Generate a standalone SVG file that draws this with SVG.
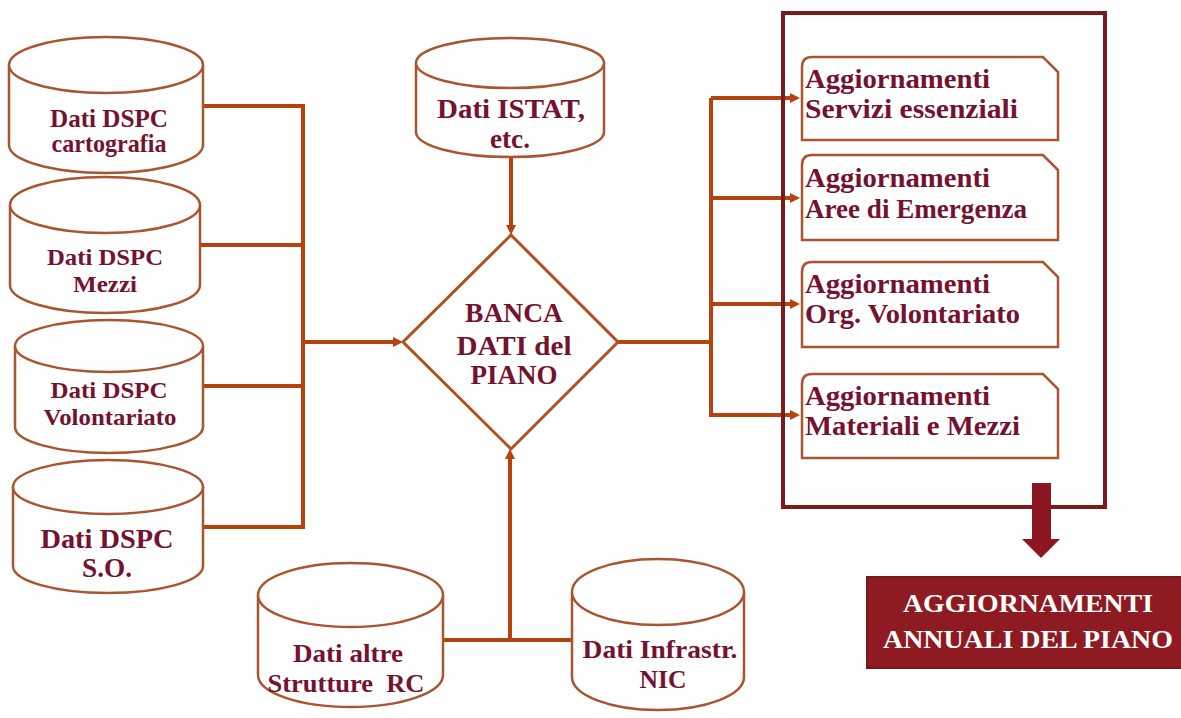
<svg xmlns="http://www.w3.org/2000/svg" width="1181" height="718" viewBox="0 0 1181 718">
<style>
.cyl{fill:#fff;stroke:#a9552f;stroke-width:2.5}
.box{fill:#fff;stroke:#a9552f;stroke-width:2.5}
.con{fill:none;stroke:#b5420f;stroke-width:4}
.t{font-family:"Liberation Serif","DejaVu Serif",serif;font-weight:bold;fill:#74122f;text-anchor:middle}
.bt{font-family:"Liberation Serif","DejaVu Serif",serif;font-weight:bold;fill:#74122f;font-size:27px}
.wt{font-family:"Liberation Serif","DejaVu Serif",serif;font-weight:bold;fill:#fff;text-anchor:middle;font-size:26px}
</style>
<defs>
<marker id="ah" viewBox="0 0 10 10" refX="4" refY="5" markerWidth="10" markerHeight="10" markerUnits="userSpaceOnUse" orient="auto">
<path d="M0,0 L10,5 L0,10 z" fill="#b5420f"/>
</marker>
</defs>
<rect width="1181" height="718" fill="#fff"/>

<g id="connectors">
<path class="con" d="M203,106 H303 V527 H203"/>
<path class="con" d="M200,245 H303"/>
<path class="con" d="M203,386 H303"/>
<path class="con" d="M303,342 H397" marker-end="url(#ah)"/>
<path class="con" d="M511,157 V229" stroke-width="3" marker-end="url(#ah)"/>
<path class="con" d="M443,640 H572"/>
<path class="con" d="M510,640 V455" stroke-width="3" marker-end="url(#ah)"/>
<path class="con" d="M618,342 H711"/>
<path class="con" d="M711,98 V417"/>
<path class="con" d="M711,98 H794" marker-end="url(#ah)"/>
<path class="con" d="M711,198 H794" marker-end="url(#ah)"/>
<path class="con" d="M711,304 H794" marker-end="url(#ah)"/>
<path class="con" d="M711,415 H794" marker-end="url(#ah)"/>
</g>

<g id="cyl-cartografia">
<path class="cyl" d="M9,65 V145 A97,28 0 0 0 203,145 V65"/>
<ellipse class="cyl" cx="106" cy="65" rx="97" ry="28"/>
<text class="t" font-size="25" x="109" y="127" textLength="118" lengthAdjust="spacingAndGlyphs">Dati DSPC</text>
<text class="t" font-size="25" x="109" y="152" textLength="115" lengthAdjust="spacingAndGlyphs">cartografia</text>
</g>

<g id="cyl-mezzi">
<path class="cyl" d="M10,205 V285 A95,28 0 0 0 200,285 V205"/>
<ellipse class="cyl" cx="105" cy="205" rx="95" ry="28"/>
<text class="t" font-size="24" x="105" y="265" textLength="116" lengthAdjust="spacingAndGlyphs">Dati DSPC</text>
<text class="t" font-size="24" x="105" y="292" textLength="64" lengthAdjust="spacingAndGlyphs">Mezzi</text>
</g>

<g id="cyl-volontariato">
<path class="cyl" d="M15,346 V427 A94,26 0 0 0 203,427 V346"/>
<ellipse class="cyl" cx="109" cy="346" rx="94" ry="26"/>
<text class="t" font-size="23" x="109" y="398" textLength="117" lengthAdjust="spacingAndGlyphs">Dati DSPC</text>
<text class="t" font-size="23" x="110" y="425" textLength="133" lengthAdjust="spacingAndGlyphs">Volontariato</text>
</g>

<g id="cyl-so">
<path class="cyl" d="M13,487 V566 A95,27 0 0 0 203,566 V487"/>
<ellipse class="cyl" cx="108" cy="487" rx="95" ry="27"/>
<text class="t" font-size="28" x="107" y="548" textLength="133" lengthAdjust="spacingAndGlyphs">Dati DSPC</text>
<text class="t" font-size="28" x="107" y="577" textLength="50" lengthAdjust="spacingAndGlyphs">S.O.</text>
</g>

<g id="cyl-istat">
<path class="cyl" d="M416,63 V132 A94,25 0 0 0 604,132 V63"/>
<ellipse class="cyl" cx="510" cy="63" rx="94" ry="25"/>
<text class="t" font-size="27" x="511" y="118" textLength="148" lengthAdjust="spacingAndGlyphs">Dati ISTAT,</text>
<text class="t" font-size="27" x="510" y="148" textLength="40" lengthAdjust="spacingAndGlyphs">etc.</text>
</g>

<g id="banca-dati">
<polygon points="511,235 618,342 511,449 403,342" fill="#fff" stroke="#b0501f" stroke-width="3"/>
<text class="t" font-size="27" x="514" y="322" textLength="98" lengthAdjust="spacingAndGlyphs">BANCA</text>
<text class="t" font-size="27" x="514" y="355" textLength="115" lengthAdjust="spacingAndGlyphs">DATI del</text>
<text class="t" font-size="27" x="514" y="384" textLength="87" lengthAdjust="spacingAndGlyphs">PIANO</text>
</g>

<g id="cyl-altre">
<path class="cyl" d="M258,595 V675 A92.5,32 0 0 0 443,675 V595"/>
<ellipse class="cyl" cx="350.5" cy="595" rx="92.5" ry="32"/>
<text class="t" font-size="25" x="348" y="662" textLength="110" lengthAdjust="spacingAndGlyphs">Dati altre</text>
<text class="t" font-size="25" x="346" y="692" textLength="157" lengthAdjust="spacingAndGlyphs" xml:space="preserve">Strutture  RC</text>
</g>

<g id="cyl-nic">
<path class="cyl" d="M572,592 V677 A86,33 0 0 0 744,677 V592"/>
<ellipse class="cyl" cx="658" cy="592" rx="86" ry="33"/>
<text class="t" font-size="25" x="660" y="658" textLength="155" lengthAdjust="spacingAndGlyphs">Dati Infrastr.</text>
<text class="t" font-size="25" x="663" y="688" textLength="47" lengthAdjust="spacingAndGlyphs">NIC</text>
</g>

<g id="aggiornamenti-group">
<rect x="783" y="13" width="322" height="494" fill="none" stroke="#7b1c1c" stroke-width="4"/>
</g>

<g id="box-servizi">
<path class="box" d="M802,140 V67 Q802,57 812,57 H1043 L1058,72 V140 Z"/>
<text class="bt" x="805" y="88" textLength="185" lengthAdjust="spacingAndGlyphs">Aggiornamenti</text>
<text class="bt" x="805" y="118" textLength="213" lengthAdjust="spacingAndGlyphs">Servizi essenziali</text>
</g>

<g id="box-aree">
<path class="box" d="M802,240 V165 Q802,155 812,155 H1043 L1058,170 V240 Z"/>
<text class="bt" x="805" y="187" textLength="185" lengthAdjust="spacingAndGlyphs">Aggiornamenti</text>
<text class="bt" x="805" y="218" textLength="222" lengthAdjust="spacingAndGlyphs">Aree di Emergenza</text>
</g>

<g id="box-volontariato">
<path class="box" d="M802,347 V272 Q802,262 812,262 H1043 L1058,277 V347 Z"/>
<text class="bt" x="805" y="293" textLength="185" lengthAdjust="spacingAndGlyphs">Aggiornamenti</text>
<text class="bt" x="805" y="323" textLength="215" lengthAdjust="spacingAndGlyphs">Org. Volontariato</text>
</g>

<g id="box-materiali">
<path class="box" d="M802,458 V384 Q802,374 812,374 H1043 L1058,389 V458 Z"/>
<text class="bt" x="805" y="405" textLength="185" lengthAdjust="spacingAndGlyphs">Aggiornamenti</text>
<text class="bt" x="805" y="435" textLength="215" lengthAdjust="spacingAndGlyphs">Materiali e Mezzi</text>
</g>

<g id="big-arrow">
<polygon points="1032,483 1051,483 1051,539 1060,539 1041,558 1022,539 1032,539" fill="#8b1520"/>
</g>

<g id="aggiornamenti-annuali">
<rect x="867" y="577" width="320" height="91" fill="#8e1a22" stroke="#7a1818" stroke-width="2"/>
<text class="wt" x="1028" y="612" textLength="250" lengthAdjust="spacingAndGlyphs">AGGIORNAMENTI</text>
<text class="wt" x="1028" y="648" textLength="290" lengthAdjust="spacingAndGlyphs">ANNUALI DEL PIANO</text>
</g>
</svg>
